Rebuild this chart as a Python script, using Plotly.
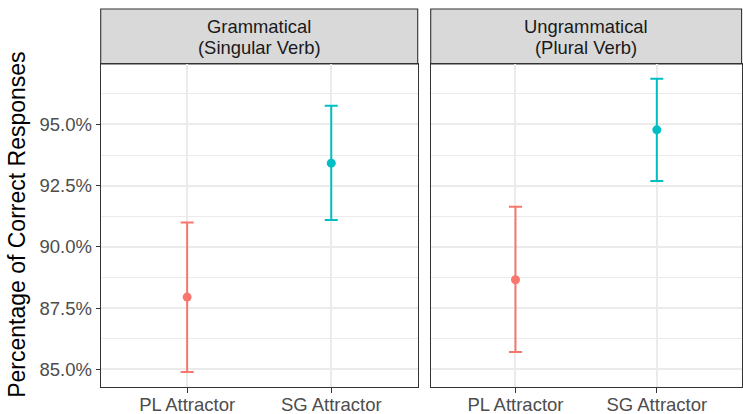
import plotly.graph_objects as go

# Facet panels and their two-line strip labels
panels = ["Grammatical", "Ungrammatical"]
panel_labels = [["Grammatical", "(Singular Verb)"], ["Ungrammatical", "(Plural Verb)"]]
attractors = ["PL Attractor", "SG Attractor"]
colors = ["#F8766D", "#00BFC4"]

# Proportion correct: mean, upper and lower CI limits (per panel, per attractor)
means = [[0.8795, 0.9342], [0.8866, 0.9478]]
upper = [[0.9100, 0.9576], [0.9164, 0.9687]]
lower = [[0.8489, 0.9110], [0.8571, 0.9269]]

y_ticks = [0.85, 0.875, 0.90, 0.925, 0.95]
y_tick_text = ["85.0%", "87.5%", "90.0%", "92.5%", "95.0%"]
y_range = [0.8429, 0.9747]

W, H = 743, 414
FONT = "Liberation Sans, Arial, Helvetica, sans-serif"


def px(x):
    return x / W


def py(y):
    return 1 - y / H


panel_x = [(100.7, 417.7), (430.7, 741.6)]
panel_top, panel_bottom = 64.0, 386.7
strip_top = 9.0

fig = go.Figure()

for i, _ in enumerate(panels):
    for j, att in enumerate(attractors):
        fig.add_trace(go.Scatter(
            x=[att], y=[means[i][j]],
            mode="markers",
            marker=dict(color=colors[j], size=9),
            error_y=dict(
                type="data", symmetric=False,
                array=[upper[i][j] - means[i][j]],
                arrayminus=[means[i][j] - lower[i][j]],
                color=colors[j], thickness=2, width=6.5,
            ),
            xaxis="x" if i == 0 else "x2",
            yaxis="y" if i == 0 else "y2",
            showlegend=False,
            hoverinfo="skip",
        ))

axis_common = dict(
    showline=True, mirror=True, linecolor="#333333", linewidth=1.1,
    showgrid=True, gridcolor="#EBEBEB", gridwidth=1.6,
    zeroline=False, automargin=False,
    ticks="outside", ticklen=4, tickwidth=1.3, tickcolor="#333333",
    tickfont=dict(family=FONT, size=18.5, color="#4D4D4D"),
)

y_common = dict(
    axis_common,
    range=y_range,
    tickvals=y_ticks, ticktext=y_tick_text,
    minor=dict(tickvals=[0.8625, 0.8875, 0.9125, 0.9375, 0.9625],
               showgrid=True, gridcolor="#EBEBEB", gridwidth=0.8, ticks=""),
    domain=[py(panel_bottom), py(panel_top)],
)

x_common = dict(
    axis_common,
    type="category",
    categoryorder="array", categoryarray=attractors,
    range=[-0.6, 1.6],
    ticklen=5,
    ticklabelstandoff=-4,
)

fig.update_layout(
    width=W, height=H,
    margin=dict(l=0, r=0, t=0, b=0),
    paper_bgcolor="white", plot_bgcolor="white",
    font=dict(family=FONT),
    xaxis=dict(x_common, domain=[px(panel_x[0][0]), px(panel_x[0][1])], anchor="y"),
    xaxis2=dict(x_common, domain=[px(panel_x[1][0]), px(panel_x[1][1])], anchor="y2"),
    yaxis=dict(y_common, anchor="x"),
    yaxis2=dict(y_common, anchor="x2", showticklabels=False, ticks=""),
)

# Strip boxes and labels above each panel
for i, (x0, x1) in enumerate(panel_x):
    fig.add_shape(type="rect", xref="paper", yref="paper",
                  x0=px(x0), x1=px(x1), y0=py(panel_top), y1=py(strip_top),
                  fillcolor="#D9D9D9", line=dict(color="#333333", width=1.1),
                  layer="below")
    cx = (x0 + x1) / 2
    for k, line in enumerate(panel_labels[i]):
        fig.add_annotation(
            x=px(cx), y=py(27.0 + 20.0 * k), xref="paper", yref="paper",
            text=line, showarrow=False, xanchor="center", yanchor="middle",
            font=dict(family=FONT, size=18.4, color="#1A1A1A"),
        )

# Y-axis title
fig.add_annotation(
    x=px(17.5), y=py((panel_top + panel_bottom) / 2), xref="paper", yref="paper",
    text="Percentage of Correct Responses", showarrow=False, textangle=-90,
    xanchor="center", yanchor="middle",
    font=dict(family=FONT, size=23, color="black"),
)

fig.write_html("out.html")
